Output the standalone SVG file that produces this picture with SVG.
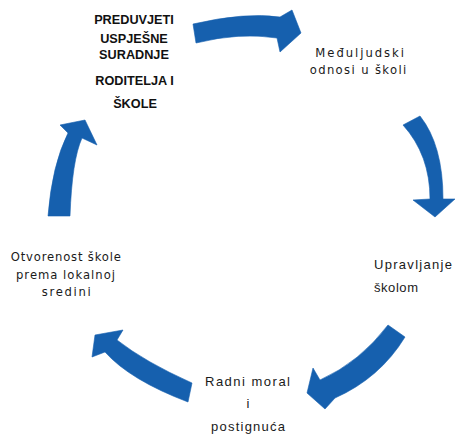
<svg xmlns="http://www.w3.org/2000/svg" width="456" height="438" viewBox="0 0 456 438">
<style>
.arrow{fill:#1660ae;stroke:#1660ae;stroke-width:0.6;stroke-linejoin:round}
.title{font-family:"Liberation Sans",Arial,sans-serif;font-weight:bold;font-size:12.7px;fill:#111;text-anchor:middle}
.wide{font-family:"DejaVu Sans","Liberation Sans",sans-serif;font-size:11.6px;fill:#1a1a1a}
.cal{font-family:"Liberation Sans",Arial,sans-serif;font-size:13px;fill:#1a1a1a}
</style>
<rect width="456" height="438" fill="#fff"/>
<g id="connectors">
<path class="arrow" d="M193,24 Q245,12 280,17 L292,10 L301,33 L280,52 L277,38 Q240,32 196,43 Z"/>
<path class="arrow" d="M403,125 L420,116 Q443,145 443,199 L455,199 L435,217 L413,200 L430,199 Q430,155 403,125 Z"/>
<path class="arrow" d="M388,325 Q360,362 320,380 L313,368 L307,393 L325,409 L335,398 Q380,378 405,337 Z"/>
<path class="arrow" d="M192,383 Q145,362 117,340 L123,330 L95,335 L92,357 L105,352 Q130,380 188,402 Z"/>
<path class="arrow" d="M48,216 Q52,165 68,133 L60,125 L85,120 L97,145 L82,138 Q72,160 70,216 Z"/>
</g>
<g id="node-preduvjeti">
<text class="title" x="134" y="24">PREDUVJETI</text>
<text class="title" x="134" y="42.7">USPJEŠNE</text>
<text class="title" x="134" y="59">SURADNJE</text>
<text class="title" x="134.5" y="85.3">RODITELJA I</text>
<text class="title" x="135" y="108.3">ŠKOLE</text>
</g>
<g id="node-medjuljudski">
<text class="wide" x="315.3" y="56.7" textLength="88.7" lengthAdjust="spacing">Međuljudski</text>
<text class="wide" x="309.7" y="74" textLength="96.6" lengthAdjust="spacing">odnosi u školi</text>
</g>
<g id="node-upravljanje">
<text class="cal" x="374" y="268.5" textLength="78" lengthAdjust="spacing">Upravljanje</text>
<text class="cal" x="374" y="292" textLength="44" lengthAdjust="spacing">školom</text>
</g>
<g id="node-radni">
<text class="cal" x="205" y="385.5" textLength="85" lengthAdjust="spacing">Radni moral</text>
<text class="cal" x="248" y="407.5" text-anchor="middle">i</text>
<text class="cal" x="211" y="430.5" textLength="74" lengthAdjust="spacing">postignuća</text>
</g>
<g id="node-otvorenost">
<text class="wide" x="10.7" y="260.7" textLength="110.3" lengthAdjust="spacing">Otvorenost škole</text>
<text class="wide" x="16" y="279" textLength="99" lengthAdjust="spacing">prema lokalnoj</text>
<text class="wide" x="41.7" y="296.3" textLength="49" lengthAdjust="spacing">sredini</text>
</g>
</svg>
